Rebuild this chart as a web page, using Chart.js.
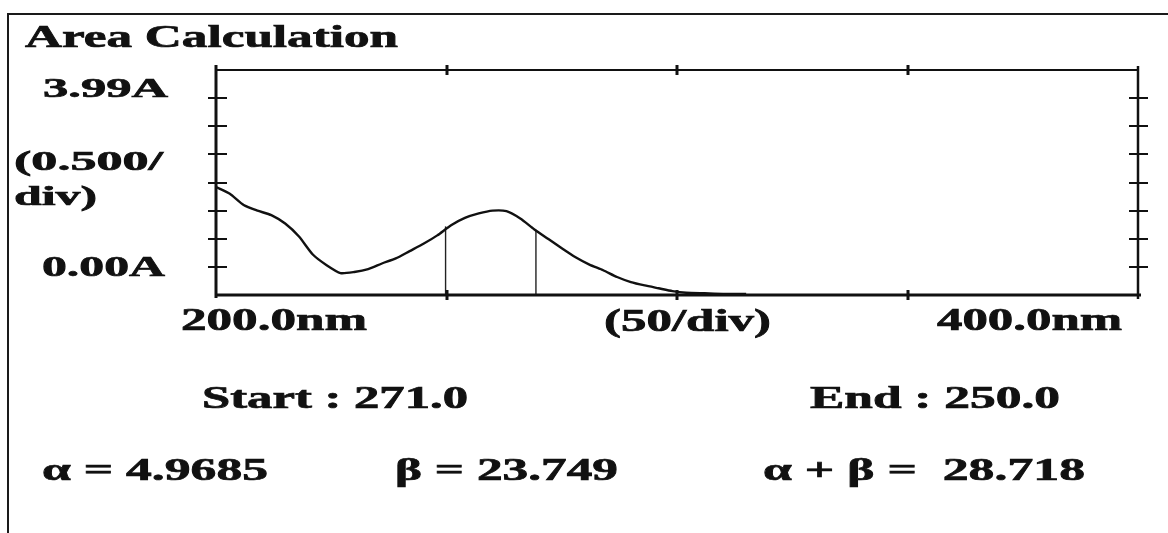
<!DOCTYPE html>
<html>
<head>
<meta charset="utf-8">
<script src="https://cdn.jsdelivr.net/npm/chart.js@4.4.1/dist/chart.umd.min.js"></script>
<style>
  html, body { margin:0; padding:0; background:#fff; }
  #wrap { position:relative; width:1168px; height:533px; overflow:hidden; background:#fff; }
  #frame { position:absolute; left:7px; top:13px; width:1200px; height:600px;
           border-top:2px solid #1a1a1a; border-left:2px solid #1a1a1a; }
  canvas#c { position:absolute; left:0; top:0; }
  .lbl { position:absolute; white-space:pre; font-family:"Liberation Serif","Times New Roman",serif;
         font-weight:bold; color:#111; line-height:1; transform-origin:0 0;
         -webkit-text-stroke:0.7px #111; }
</style>
</head>
<body>
<div id="wrap">
  <div id="frame"></div>
  <canvas id="c" width="1168" height="533"></canvas>
</div>
<script>
// ---- data ----
const wavelength = [200,203,206,209,212,215,218,221,224,227,230,233,236,239,242,245,248,251,254,257,260,263,266,269,272,275,278,281,284,287,290,293,296,299,302,306,310,315];
const absorbance = [1.42,1.30,1.10,1.00,0.92,0.77,0.54,0.22,0.03,-0.11,-0.09,-0.04,0.06,0.15,0.28,0.41,0.56,0.74,0.87,0.95,1.00,0.99,0.86,0.67,0.50,0.33,0.17,0.04,-0.06,-0.18,-0.27,-0.33,-0.38,-0.43,-0.46,-0.47,-0.48,-0.48];
const markerX = [249.8, 269.4];
const markerTop = [0.72, 0.66];
const xTicks = [250, 300, 350];
const yTicks = [0, 0.5, 1.0, 1.5, 2.0, 2.5, 3.0];
const xRange = [200, 400];
const yRange = [-0.5, 3.5];

const labelTexts = ['Area Calculation','3.99A','(0.500/','div)','0.00A','200.0nm','(50/div)','400.0nm',
  'Start : 271.0','End : 250.0','\u03b1 = 4.9685','\u03b2 = 23.749','\u03b1 + \u03b2 =  28.718'];
// layout for each label: left, target width, baseline, font size
const labelLayout = [
  [25,373,47,31],[43,125,97,28],[14,149,170,28],[14,83,205,28],[42,123,276,29],
  [181,186,330,32],[604,167,331,32],[937,185,330,32],
  [202,266,408,31],[810,250,408,31],
  [42,226,480,32],[395,223,480,32],[763,322,480,32]
];

// ---- text labels as HTML ----
const wrap = document.getElementById('wrap');
labelTexts.forEach((t, i) => {
  const [x, w, base, size] = labelLayout[i];
  const d = document.createElement('div');
  d.className = 'lbl';
  d.style.fontSize = size + 'px';
  d.style.left = x + 'px';
  d.style.top = '0px';
  const s = document.createElement('span');
  s.textContent = t;
  const b = document.createElement('span');
  b.style.cssText = 'display:inline-block;width:0;height:0;vertical-align:baseline;';
  d.appendChild(s); d.appendChild(b);
  wrap.appendChild(d);
  const nat = s.getBoundingClientRect().width;
  const bl = b.offsetTop;
  d.style.top = (base - bl) + 'px';
  d.style.transform = 'scaleX(' + (w / nat) + ')';
});

// ---- frame & ticks plugin ----
const framePlugin = {
  id: 'frame',
  afterDatasetsDraw(chart) {
    const {ctx, chartArea: a, scales: {x, y}} = chart;
    ctx.save();
    ctx.strokeStyle = '#111';
    ctx.lineCap = 'butt';
    ctx.lineWidth = 2;
    ctx.beginPath(); ctx.moveTo(a.left, a.top); ctx.lineTo(a.right, a.top); ctx.stroke();
    ctx.lineWidth = 3;
    ctx.beginPath(); ctx.moveTo(a.left, a.bottom); ctx.lineTo(a.right + 3, a.bottom); ctx.stroke();
    ctx.lineWidth = 3;
    ctx.beginPath(); ctx.moveTo(a.left, a.top - 5); ctx.lineTo(a.left, a.bottom + 3); ctx.stroke();
    ctx.lineWidth = 2.5;
    ctx.beginPath(); ctx.moveTo(a.right, a.top - 4); ctx.lineTo(a.right, a.bottom + 4); ctx.stroke();
    ctx.lineWidth = 2;
    yTicks.forEach(v => {
      const py = Math.round(y.getPixelForValue(v));
      ctx.beginPath(); ctx.moveTo(a.left - 8, py); ctx.lineTo(a.left + 11, py); ctx.stroke();
      ctx.beginPath(); ctx.moveTo(a.right - 9, py); ctx.lineTo(a.right + 10, py); ctx.stroke();
    });
    ctx.lineWidth = 3;
    xTicks.forEach(v => {
      const px = Math.round(x.getPixelForValue(v));
      ctx.beginPath(); ctx.moveTo(px, a.top - 5); ctx.lineTo(px, a.top + 5); ctx.stroke();
      ctx.beginPath(); ctx.moveTo(px, a.bottom - 5); ctx.lineTo(px, a.bottom + 5); ctx.stroke();
    });
    ctx.restore();
  }
};

const datasets = [{
  data: wavelength.map((w, i) => ({x: w, y: absorbance[i]})),
  borderColor: '#111', borderWidth: 2.4, pointRadius: 0, tension: 0.2, fill: false
}];
markerX.forEach((mx, i) => {
  datasets.push({
    data: [{x: mx, y: yRange[0]}, {x: mx, y: markerTop[i]}],
    borderColor: '#222', borderWidth: 1.4, pointRadius: 0, tension: 0, fill: false
  });
});

new Chart(document.getElementById('c'), {
  type: 'line',
  data: { datasets },
  options: {
    responsive: false,
    animation: false,
    layout: { padding: { left: 216, right: 30, top: 70, bottom: 238 } },
    plugins: { legend: { display: false }, tooltip: { enabled: false } },
    scales: {
      x: { type: 'linear', min: xRange[0], max: xRange[1], display: false },
      y: { type: 'linear', min: yRange[0], max: yRange[1], display: false }
    }
  },
  plugins: [framePlugin]
});
</script>
</body>
</html>
